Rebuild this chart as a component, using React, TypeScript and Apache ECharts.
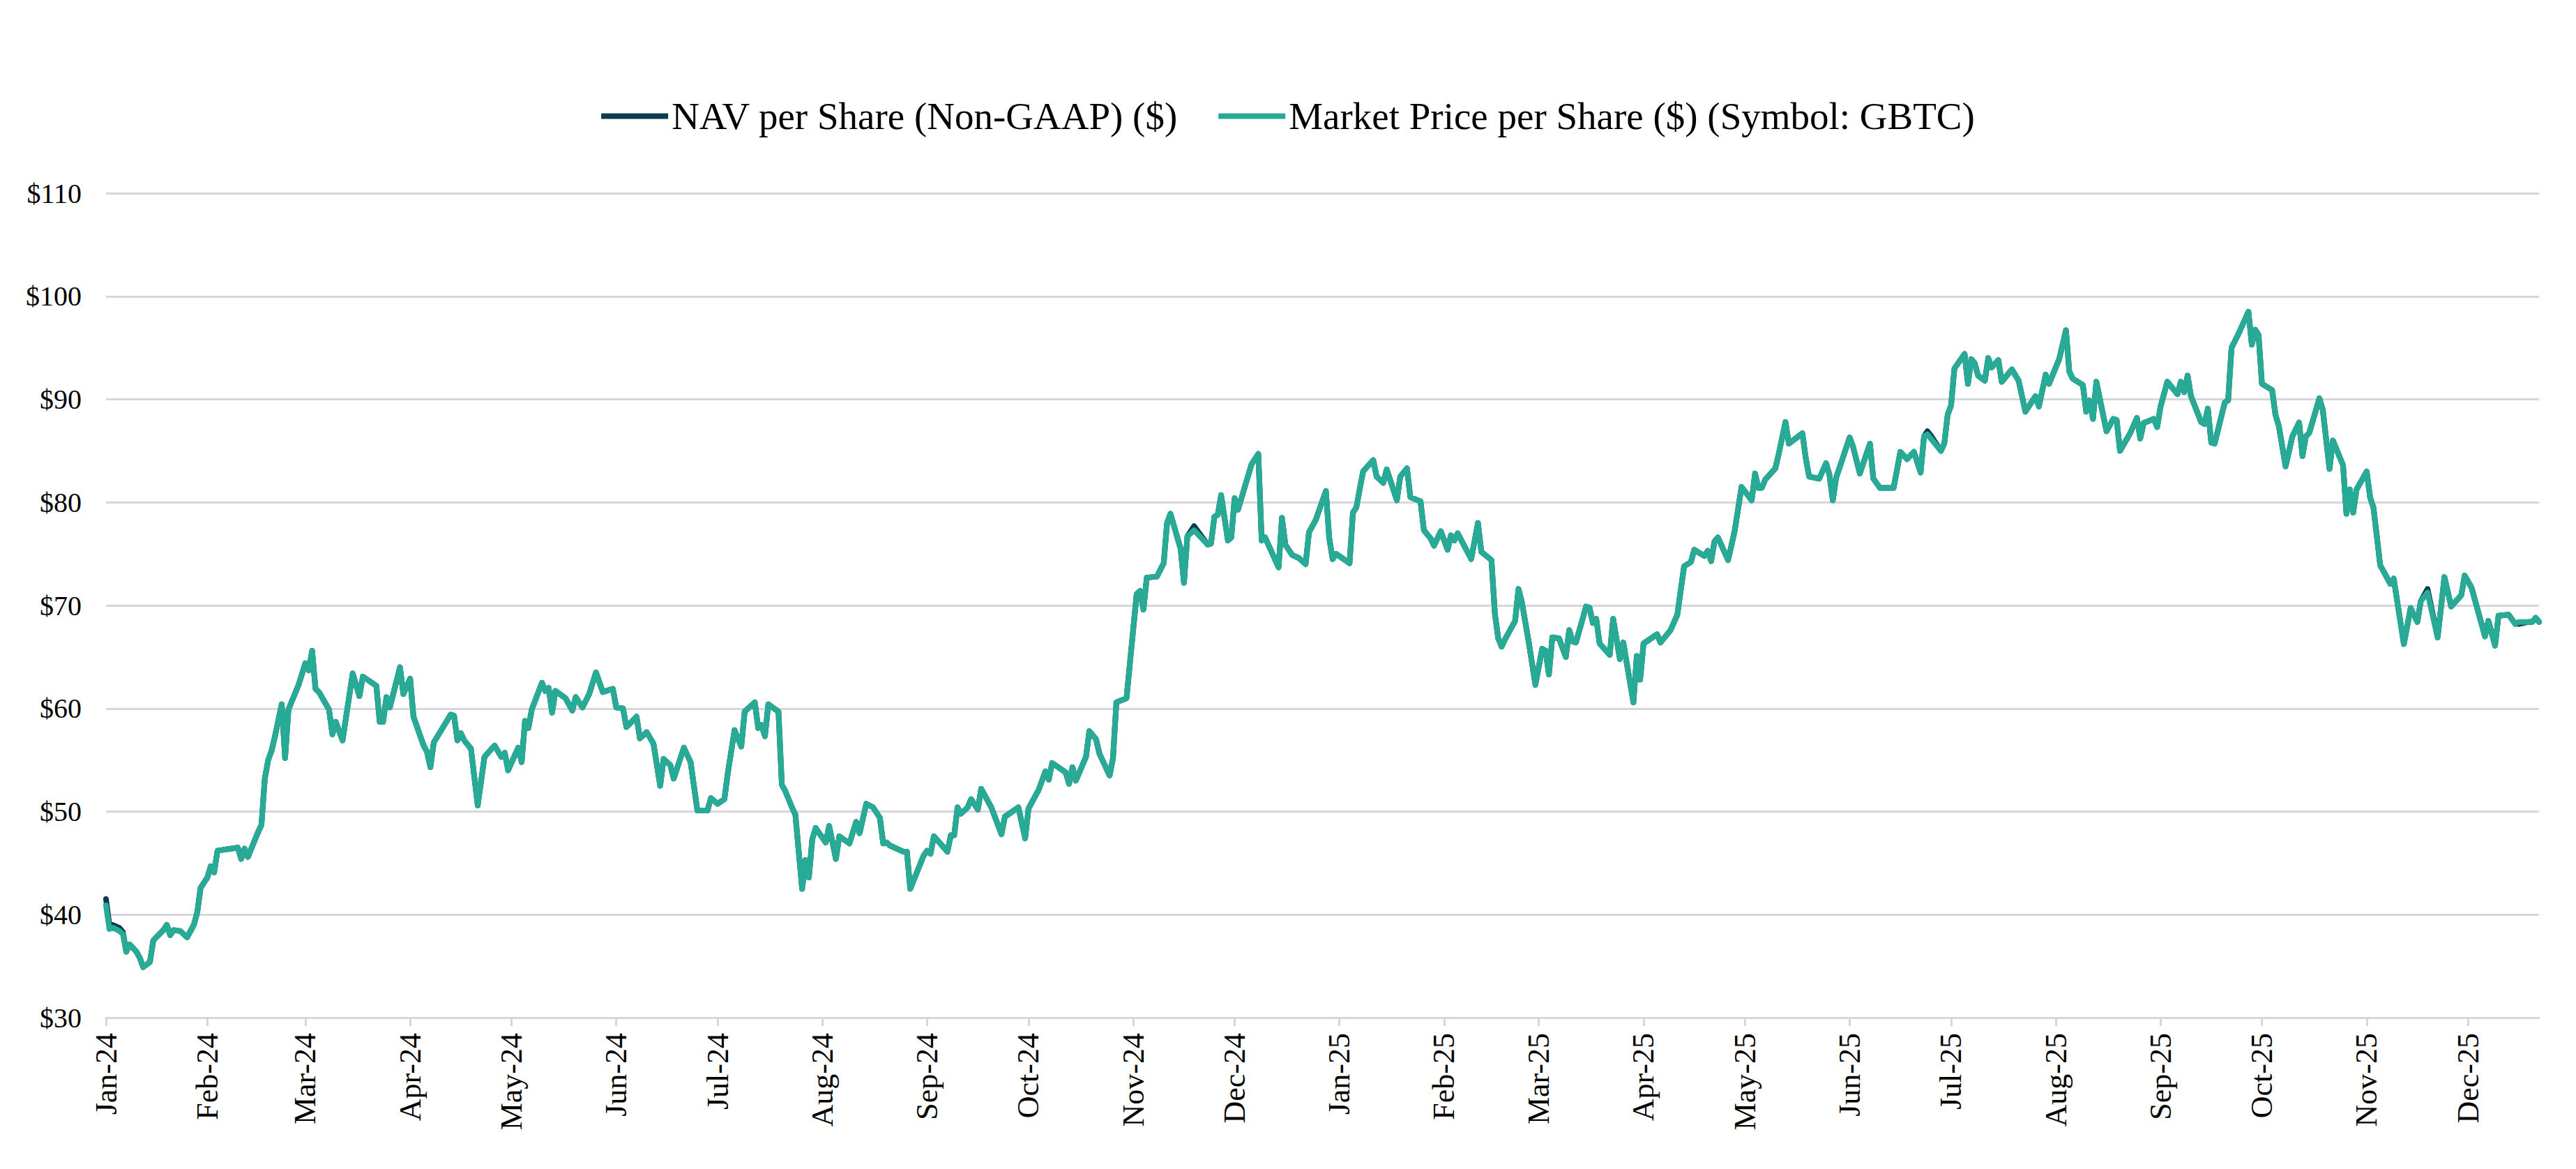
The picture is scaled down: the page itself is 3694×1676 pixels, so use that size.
import React, { useEffect, useRef } from "react";
import * as echarts from "echarts";

const seriesNames = ["NAV per Share (Non-GAAP) ($)", "Market Price per Share ($) (Symbol: GBTC)"];
const monthNames = ["Jan", "Feb", "Mar", "Apr", "May", "Jun", "Jul", "Aug", "Sep", "Oct", "Nov", "Dec"];
const firstDate = "2024-01-02";
const lastDate = "2025-12-22";
const yMin = 30;
const yMax = 110;
const yStep = 10;

// Market price per share, [day of month, $] per month
const jan24 = [[2,40.9],[3,38.6],[4,38.75],[6,38.4],[7,38.1],[8,36.4],[9,37.1],[11,36.4],[12,35.8],[13,34.9],[15,35.4],[16,37.5],[19,38.5],[20,39.0],[21,38.0],[22,38.5],[24,38.4],[26,37.8],[28,39.0],[29,40.2],[30,42.6]];
const feb24 = [[1,43.6],[2,44.7],[3,44.1],[4,46.2],[6,46.3],[8,46.4],[10,46.5],[11,45.4],[12,46.4],[13,45.6],[16,48.0],[17,48.7],[18,53.2],[19,55.0],[20,55.9],[21,57.3],[23,60.4],[24,55.2],[25,59.9],[26,60.7],[28,62.3]];
const mar24 = [[1,64.4],[2,63.7],[3,65.6],[4,61.9],[5,61.6],[8,59.9],[9,57.5],[10,58.7],[12,56.9],[15,63.4],[17,61.2],[18,63.1],[22,62.2],[23,58.7],[24,58.7],[25,61.1],[26,60.1],[29,64.0],[30,61.4]];
const apr24 = [[1,62.9],[2,59.2],[5,56.4],[6,55.8],[7,54.3],[8,56.7],[13,59.4],[14,59.3],[15,56.9],[16,57.6],[17,56.9],[19,56.1],[21,50.6],[23,55.3],[26,56.4],[28,55.3],[29,55.7],[30,54.0]];
const may24 = [[3,56.2],[4,54.8],[5,58.8],[6,58.1],[7,59.9],[10,62.5],[11,61.7],[12,62.0],[13,59.6],[14,61.7],[17,61.0],[19,59.8],[20,61.1],[22,60.1],[24,61.4],[26,63.5],[28,61.6],[31,61.9]];
const jun24 = [[1,60.1],[3,60.0],[4,58.2],[7,59.2],[8,57.1],[10,57.7],[12,56.6],[14,52.5],[15,55.1],[17,54.5],[18,53.2],[21,56.2],[23,54.8],[25,50.1],[28,50.1],[29,51.3]];
const jul24 = [[1,50.75],[3,51.2],[4,53.7],[6,57.9],[8,56.3],[9,59.7],[12,60.6],[13,58.1],[14,58.4],[15,57.3],[16,60.4],[19,59.7],[20,52.6],[21,52.0],[23,50.4],[24,49.7],[26,42.5],[27,45.3],[28,43.6],[29,47.3],[30,48.4]];
const aug24 = [[2,47.0],[3,48.6],[5,45.4],[6,47.6],[9,46.9],[11,49.0],[12,47.9],[14,50.75],[16,50.4],[18,49.4],[19,46.9],[20,47.0],[21,46.7],[25,46.1],[26,46.1],[27,42.5],[31,45.75]];
const sep24 = [[1,46.2],[2,45.9],[3,47.6],[7,46.1],[8,47.7],[9,47.7],[10,50.4],[11,49.8],[13,50.4],[14,51.2],[16,50.2],[17,52.2],[20,50.4],[23,47.8],[24,49.5],[28,50.4],[30,47.4]];
const oct24 = [[1,50.3],[4,52.1],[6,53.9],[7,53.1],[8,54.7],[12,53.8],[13,52.7],[14,54.3],[15,53.0],[18,55.3],[19,57.8],[21,57.0],[22,55.6],[25,53.5],[26,55.2],[27,60.6],[30,61.0]];
const nov24 = [[2,71.1],[3,71.4],[4,69.6],[5,72.7],[8,72.8],[10,74.1],[11,78.0],[12,78.9],[15,75.5],[16,72.2],[17,76.7],[19,77.3],[23,75.9],[24,76.0],[25,78.6],[26,78.8],[27,80.7],[29,76.3],[30,76.6]];
const dec24 = [[1,80.4],[2,79.3],[3,80.4],[6,83.7],[8,84.7],[9,76.3],[10,76.6],[14,73.7],[15,78.5],[16,75.9],[18,74.9],[20,74.6],[22,74.0],[23,77.1],[25,78.3],[28,81.1],[29,76.5],[30,74.5],[31,75.0]];
const jan25 = [[4,74.1],[5,79.0],[6,79.5],[8,83.0],[11,84.1],[12,82.5],[14,81.9],[15,83.2],[18,80.2],[19,82.5],[21,83.3],[22,80.5],[25,80.1],[26,77.3],[28,76.5],[29,75.8],[31,77.2]];
const feb25 = [[2,75.4],[3,76.8],[4,76.3],[5,77.0],[9,74.5],[11,78.0],[12,75.2],[15,74.4],[16,69.2],[17,66.8],[18,66.0],[19,66.7],[22,68.5],[23,71.6],[24,70.3],[26,66.5],[28,62.3]];
const mar25 = [[2,65.8],[3,65.6],[4,63.3],[5,66.9],[7,66.8],[9,65.0],[10,67.6],[11,66.5],[12,66.4],[15,69.9],[16,69.8],[17,68.3],[18,68.7],[19,66.3],[22,65.2],[23,68.7],[25,64.8],[26,66.4],[29,60.6],[30,65.1],[31,62.8]];
const apr25 = [[1,66.3],[5,67.2],[6,66.4],[9,67.6],[11,69.1],[13,73.8],[15,74.2],[16,75.4],[19,74.8],[20,75.3],[21,74.3],[22,76.2],[23,76.6],[26,74.4],[27,75.8],[28,77.3],[30,81.5]];
const may25 = [[3,80.2],[4,82.8],[5,81.4],[6,81.4],[7,82.2],[10,83.3],[11,84.7],[13,87.8],[14,85.7],[18,86.7],[19,84.3],[20,82.5],[23,82.3],[25,83.8],[26,82.7],[27,80.2],[28,82.4]];
const jun25 = [[1,86.3],[2,85.4],[4,82.8],[7,85.7],[8,82.3],[10,81.4],[14,81.4],[16,84.9],[18,84.2],[20,84.9],[22,82.9],[23,86.4],[24,86.6],[25,86.2],[28,85.0],[29,85.7],[30,88.5]];
const jul25 = [[1,89.4],[2,93.0],[5,94.4],[6,91.5],[7,93.9],[8,93.5],[9,92.3],[11,91.8],[12,94.0],[13,93.1],[15,93.8],[16,91.7],[19,92.9],[21,91.8],[23,88.8],[26,90.3],[27,89.3],[29,92.4],[30,91.5]];
const aug25 = [[2,93.9],[4,96.7],[5,92.7],[6,92.0],[9,91.4],[10,88.8],[11,89.9],[12,88.1],[13,91.7],[16,86.9],[18,88.1],[19,88.0],[20,85.0],[23,86.7],[25,88.2],[26,86.2],[27,87.7],[30,88.1],[31,87.3]];
const sep25 = [[1,89.3],[3,91.7],[6,90.5],[7,91.7],[8,90.7],[9,92.3],[10,90.3],[13,87.8],[14,87.6],[15,89.1],[16,85.8],[17,85.7],[20,89.7],[21,89.9],[22,95.0],[24,96.3],[27,98.5],[28,95.3],[29,96.75],[30,96.25]];
const oct25 = [[1,91.5],[4,90.9],[5,88.5],[6,87.4],[8,83.5],[10,86.4],[12,87.75],[13,84.5],[14,86.4],[15,86.75],[18,90.1],[19,89.0],[21,83.25],[22,86.0],[25,83.6],[26,78.9],[27,81.25],[28,79.0],[29,81.25]];
const nov25 = [[1,83.0],[2,80.5],[3,79.5],[5,73.9],[8,72.1],[9,72.6],[12,66.25],[14,69.75],[16,68.4],[17,70.4],[19,71.25],[22,66.9],[24,72.75],[26,69.9],[29,71.0],[30,72.9]];
const dec25 = [[2,71.75],[6,67.0],[7,68.5],[9,66.1],[10,69.0],[13,69.1],[15,68.2],[16,68.4],[19,68.4],[20,68.4],[21,68.8],[22,68.4]];

const monthKeys = ["2024-01","2024-02","2024-03","2024-04","2024-05","2024-06","2024-07","2024-08","2024-09","2024-10","2024-11","2024-12",
  "2025-01","2025-02","2025-03","2025-04","2025-05","2025-06","2025-07","2025-08","2025-09","2025-10","2025-11","2025-12"];
const priceMonths = [jan24, feb24, mar24, apr24, may24, jun24, jul24, aug24, sep24, oct24, nov24, dec24,
  jan25, feb25, mar25, apr25, may25, jun25, jul25, aug25, sep25, oct25, nov25, dec25];

// NAV per share equals the market price except on these dates
const navDiffs: [string, number][] = [
  ["2024-01-02", 41.5], ["2024-01-03", 39.0], ["2024-01-04", 39.0], ["2024-01-06", 38.7], ["2024-01-07", 38.3],
  ["2024-11-19", 77.7], ["2025-06-24", 86.9], ["2025-06-25", 86.5], ["2025-11-19", 71.6], ["2025-12-16", 68.2],
];

const COLORS = { nav: "#0B3B4F", price: "#27AB96", grid: "#D9D5DE", text: "#000000" };
const FONT = "'Liberation Serif', 'Times New Roman', serif";

function pad(n: number) { return n < 10 ? "0" + n : "" + n; }

function buildCategories(): string[] {
  const out: string[] = [];
  const d = new Date(firstDate + "T00:00:00Z");
  const end = new Date(lastDate + "T00:00:00Z");
  while (d.getTime() <= end.getTime()) {
    out.push(d.getUTCFullYear() + "-" + pad(d.getUTCMonth() + 1) + "-" + pad(d.getUTCDate()));
    d.setUTCDate(d.getUTCDate() + 1);
  }
  return out;
}

function fmtMonth(v: string) {
  const [y, m] = v.split("-");
  return monthNames[parseInt(m, 10) - 1] + "-" + y.slice(2);
}

export default function App() {
  const ref = useRef<HTMLDivElement>(null);
  useEffect(() => {
    if (!ref.current) return;
    const chart = echarts.init(ref.current, undefined, { renderer: "svg" });
    const cats = buildCategories();
    const priceMap = new Map<string, number>();
    monthKeys.forEach((mk, i) => {
      priceMonths[i].forEach(([day, v]) => priceMap.set(mk + "-" + pad(day), v));
    });
    const navMap = new Map(priceMap);
    navDiffs.forEach(([d, v]) => navMap.set(d, v));
    const priceData = cats.map((c) => (priceMap.has(c) ? priceMap.get(c) : null));
    const navData = cats.map((c) => (navMap.has(c) ? navMap.get(c) : null));
    const showAt = (index: number, value: string) => index === 0 || value.endsWith("-01");

    chart.setOption({
      animation: false,
      backgroundColor: "#ffffff",
      legend: {
        top: 134,
        left: "center",
        icon: "rect",
        itemWidth: 96,
        itemHeight: 8,
        itemGap: 58,
        textStyle: { fontFamily: FONT, fontSize: 55, color: COLORS.text },
        data: seriesNames,
      },
      grid: { left: 152, right: 53, top: 277, bottom: 217, containLabel: false },
      xAxis: {
        type: "category",
        data: cats,
        boundaryGap: false,
        axisLine: { show: true, lineStyle: { color: COLORS.grid, width: 3 } },
        axisTick: { show: true, interval: showAt, length: 12, lineStyle: { color: COLORS.grid, width: 3 } },
        axisLabel: {
          interval: showAt,
          rotate: 90,
          margin: 22,
          formatter: fmtMonth,
          fontFamily: FONT,
          fontSize: 44,
          color: COLORS.text,
          hideOverlap: false,
        },
        splitLine: { show: false },
      },
      yAxis: {
        type: "value",
        min: yMin,
        max: yMax,
        interval: yStep,
        axisLine: { show: false },
        axisTick: { show: false },
        axisLabel: {
          formatter: (v: number) => "$" + v,
          fontFamily: FONT,
          fontSize: 40,
          color: COLORS.text,
          margin: 35,
        },
        splitLine: { show: true, lineStyle: { color: COLORS.grid, width: 3 } },
      },
      series: [
        {
          name: seriesNames[0],
          type: "line",
          data: navData,
          connectNulls: true,
          showSymbol: false,
          symbol: "none",
          color: COLORS.nav,
          lineStyle: { color: COLORS.nav, width: 8, join: "round", cap: "round" },
        },
        {
          name: seriesNames[1],
          type: "line",
          data: priceData,
          connectNulls: true,
          showSymbol: false,
          symbol: "none",
          color: COLORS.price,
          lineStyle: { color: COLORS.price, width: 8, join: "round", cap: "round" },
        },
      ],
    });
    return () => chart.dispose();
  }, []);
  return (
    <div
      ref={ref}
      style={{ position: "fixed", left: 0, top: 0, width: "3694px", height: "1676px", background: "#fff" }}
    />
  );
}
